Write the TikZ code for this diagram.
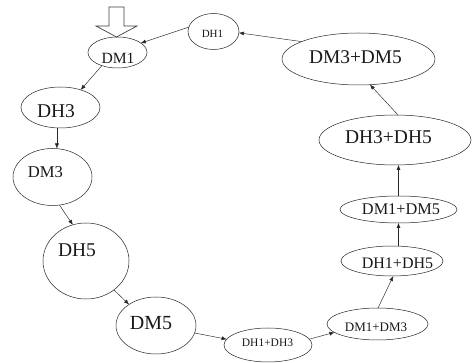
\documentclass[tikz,border=0pt]{standalone}
\usepackage{fontspec}
\setmainfont{Liberation Serif}
\usetikzlibrary{shapes.geometric,arrows.meta}
\newcommand\fsz[1]{\fontsize{#1}{#1}\selectfont}
\tikzset{
  ell/.style={draw=black!85, line width=0.5pt, ellipse, inner sep=0pt, outer sep=0pt},
  txt/.style={inner sep=0pt, text=black!90},
  arr/.style={draw=black!85, line width=0.45pt, -{Latex[length=5pt,width=4pt]}},
  hollow/.style={draw=black!75, line width=0.7pt, fill=white}
}
\begin{document}
\begin{tikzpicture}[x=1pt,y=-1pt]
\useasboundingbox[fill=white] (0,0) rectangle (472,363);
% start marker
\draw[hollow] (109,7) -- (124,7) -- (124,26) -- (137,26) -- (116.5,37) -- (96,26) -- (109,26) -- cycle;
% ellipses
\node[ell, minimum width=51, minimum height=36] (dh1) at (213.5,31.5) {};
\node[ell, minimum width=59, minimum height=31] (dm1) at (117.5,52.5) {};
\node[ell, minimum width=79, minimum height=41] (dh3) at (60.5,107.5) {};
\node[ell, minimum width=79, minimum height=57] (dm3) at (52.5,177) {};
\node[ell, minimum width=86, minimum height=76] (dh5) at (86,261) {};
\node[ell, minimum width=80, minimum height=57] (dm5) at (156,325.5) {};
\node[ell, minimum width=88, minimum height=34] (dhdh13) at (268,345) {};
\node[ell, minimum width=101, minimum height=32] (dmdm13) at (377.5,324) {};
\node[ell, minimum width=102, minimum height=30] (dhdh15) at (392,261) {};
\node[ell, minimum width=117, minimum height=27] (dmdm15) at (398.5,209.5) {};
\node[ell, minimum width=152, minimum height=50] (dhdh35) at (395,140) {};
\node[ell, minimum width=153, minimum height=52] (dmdm35) at (358.5,59) {};
% texts
\node[txt, font=\fsz{11}] (dh1t) at (212.5,33.5) {DH1};
\node[txt, font=\fsz{15.6}] (dm1t) at (118,58) {DM1};
\node[txt, font=\fsz{19.5}] (dh3t) at (56,111) {DH3};
\node[txt, font=\fsz{16.6}] (dm3t) at (45.5,172) {DM3};
\node[txt, font=\fsz{19.5}] (dh5t) at (77,250) {DH5};
\node[txt, font=\fsz{20}] (dm5t) at (151,323) {DM5};
\node[txt, font=\fsz{11.5}] (dhdh13t) at (267.5,343) {DH1+DH3};
\node[txt, font=\fsz{13}] (dmdm13t) at (376,327) {DM1+DM3};
\node[txt, font=\fsz{16}] (dhdh15t) at (397.5,263) {DH1+DH5};
\node[txt, font=\fsz{16.3}] (dmdm15t) at (401,209) {DM1+DM5};
\node[txt, font=\fsz{19.5}] (dhdh35t) at (388.5,137) {DH3+DH5};
\node[txt, font=\fsz{19.4}] (dmdm35t) at (355.5,57) {DM3+DM5};
% connectors
\draw[arr] (dh1.170) -- (dm1.22);
\draw[arr] (dm1.220) -- (dh3.41);
\draw[arr] (dh3.260) -- (dh3.260 |- dm3.north);
\draw[arr] (dm3.-76) -- (dh5.110);
\draw[arr] (dh5.-46) -- (dm5.142);
\draw[arr] (dm5.-11) -- (dhdh13.172);
\draw[arr] (dhdh13.8) -- (dmdm13.191);
\draw[arr] (dmdm13.88) -- (dhdh15.275);
\draw[arr] (dhdh15.north -| dmdm15.south) -- (dmdm15.south);
\draw[arr] (dmdm15.north) -- (dmdm15.north |- dhdh35.south);
\draw[arr] (dhdh35.83) -- (dmdm35.-66);
\draw[arr] (dmdm35.163) -- (dh1.-3);
\end{tikzpicture}
\end{document}
